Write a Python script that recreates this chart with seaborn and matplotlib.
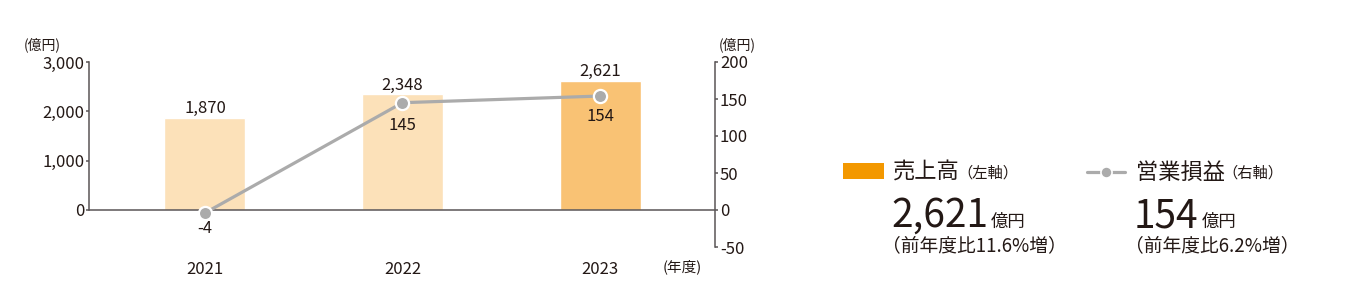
import matplotlib
matplotlib.use("Agg")
import matplotlib.pyplot as plt
import matplotlib.text as mtext
import seaborn as sns
import pandas as pd
from matplotlib.patches import Rectangle
from matplotlib.lines import Line2D

years = ["2021", "2022", "2023"]
sales = [1870, 2348, 2621]
op_profit = [-4, 145, 154]
left_ticks = [0, 1000, 2000, 3000]
right_ticks = [-50, 0, 50, 100, 150, 200]
bar_colors = ["#FCE1B9", "#FCE1B9", "#F9C274"]
op_label_offsets = [-11, -16.5, -14.5]

sns.set_style("white")
plt.rcParams["font.family"] = ["Noto Sans CJK JP", "DejaVu Sans"]
TXT = "#231815"
AX = "#5A5556"
GRAY = "#ABABAB"
FS = 12

W, H = 1360, 307
fig = plt.figure(figsize=(W / 100, H / 100), dpi=100)


def fx(x):
    return x / W


def fy(y):
    return 1 - y / H


ax = fig.add_axes([fx(89), fy(247), fx(715) - fx(89), fy(62) - fy(247)])
ax.patch.set_visible(False)

df = pd.DataFrame({"year": years, "sales": sales, "op": op_profit})
sns.barplot(data=df, x="year", y="sales", hue="year", palette=bar_colors,
            width=0.41, legend=False, ax=ax, saturation=1)
for c in ax.containers:
    ax.bar_label(c, labels=[f"{v:,.0f}" for v in c.datavalues], padding=0.5,
                 fontsize=FS, color=TXT)

ax.set_ylim(-750, 3000)
ax.set_yticks(left_ticks)
ax.set_yticklabels([f"{v:,}" for v in left_ticks])
ax.axhline(0, color=AX, lw=1.1, zorder=1)
for s in ["top", "right", "bottom"]:
    ax.spines[s].set_visible(False)
ax.spines["left"].set_color(AX)
ax.spines["left"].set_linewidth(1.1)
ax.spines["left"].set_bounds(0, 3000)
ax.tick_params(axis="y", direction="out", length=2.5, width=1.1, color=AX,
               labelsize=FS, labelcolor=TXT, pad=1, left=True)
ax.set_xlabel("")
ax.set_ylabel("")

ax2 = ax.twinx()
sns.pointplot(data=df, x="year", y="op", color=GRAY, errorbar=None,
              markers="o", markersize=9.5, linewidth=2.3,
              markeredgecolor="white", markeredgewidth=1.6, ax=ax2)
for i, v in enumerate(op_profit):
    ax2.annotate(f"{v:,}", xy=(i, v), xytext=(0, op_label_offsets[i]),
                 textcoords="offset points", ha="center", va="center",
                 fontsize=FS, color=TXT)
ax2.set_ylim(-50, 200)
ax2.set_yticks(right_ticks)
ax2.set_yticklabels([str(v) for v in right_ticks])
for s in ["top", "left", "bottom"]:
    ax2.spines[s].set_visible(False)
ax2.spines["right"].set_color(AX)
ax2.spines["right"].set_linewidth(1.1)
ax2.tick_params(axis="y", direction="out", length=2.5, width=1.1, color=AX,
                labelsize=FS, labelcolor=TXT, pad=1, right=True)
ax2.set_xlabel("")
ax2.set_ylabel("")

ax.set_xlim(-0.587, 2.582)
ax.set_xticks(range(len(years)))
ax.set_xticklabels(years)
ax.tick_params(axis="x", length=0, pad=10, labelsize=FS, labelcolor=TXT)

fig.text(fx(42), fy(45), "(億円)", ha="center", va="center", fontsize=10, color=TXT)
fig.text(fx(737), fy(45), "(億円)", ha="center", va="center", fontsize=10, color=TXT)
fig.text(fx(682), fy(267), "(年度)", ha="center", va="center", fontsize=10.5, color=TXT)

# legend / summary block
fig.add_artist(Rectangle((fx(843), fy(179)), fx(41), fy(163) - fy(179),
                         transform=fig.transFigure, color="#F39800", lw=0))
fig.add_artist(Line2D([fx(1087), fx(1125)], [fy(172), fy(172)], transform=fig.transFigure,
                      color=GRAY, lw=2.3))
fig.add_artist(Line2D([fx(1106)], [fy(172)], transform=fig.transFigure, color=GRAY,
                      marker="o", markersize=8, markeredgecolor="white", markeredgewidth=1.2))


def block(x0, title, sub, big, note):
    t1 = fig.text(fx(x0), fy(172), title, ha="left", va="center", fontsize=16, color=TXT)
    fig.add_artist(mtext.Annotation(
        sub, xy=(1, fy(173.5)), xycoords=(t1, "figure fraction"), xytext=(-2, 0),
        textcoords="offset points", ha="left", va="center", fontsize=11, color=TXT))
    t2 = fig.text(fx(x0 - 2), fy(227), big, ha="left", va="baseline", fontsize=28, color=TXT)
    fig.add_artist(mtext.Annotation(
        "億円", xy=(1, fy(227)), xycoords=(t2, "figure fraction"), xytext=(2, 0),
        textcoords="offset points", ha="left", va="baseline", fontsize=12.5, color=TXT))
    fig.text(fx(x0 - 11), fy(246), note, ha="left", va="center", fontsize=13.5, color=TXT)


block(893, "売上高", "（左軸）", "2,621", "（前年度比11.6%増）")
block(1136, "営業損益", "（右軸）", "154", "（前年度比6.2%増）")

fig.savefig("out.png", dpi=100)
